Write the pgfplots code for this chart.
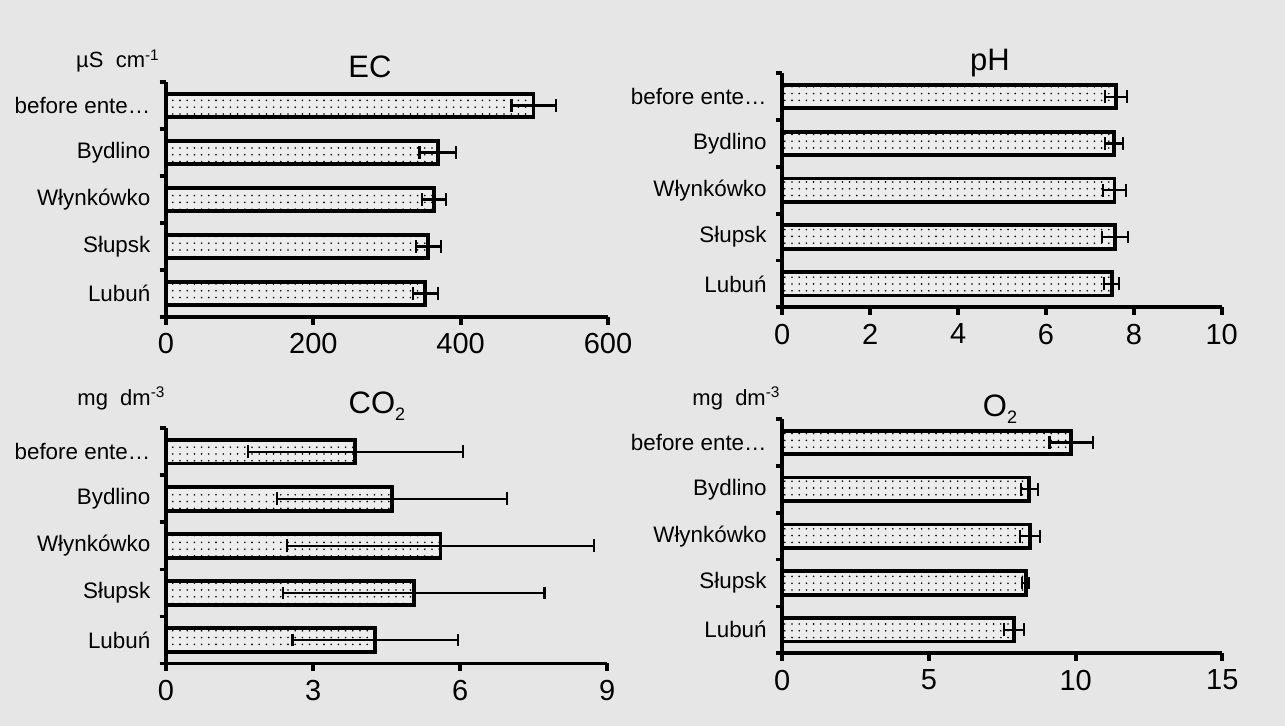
\documentclass[border=0pt]{standalone}
\usepackage{fontspec}
\setmainfont{Liberation Sans}
\usepackage{pgfplots}
\pgfplotsset{compat=1.18}
\usetikzlibrary{patterns}
\definecolor{bg}{HTML}{E6E6E6}
\definecolor{barfill}{HTML}{EDEDED}

% loose dot grid for the bar interiors
\pgfdeclarepatternformonly{sparsedots}{\pgfqpoint{-1pt}{-1pt}}{\pgfqpoint{1pt}{1pt}}{\pgfqpoint{3.6pt}{3.4pt}}{%
  \pgfpathcircle{\pgfqpoint{0pt}{0pt}}{.45pt}\pgfusepath{fill}}

% Mean values with standard deviations, one table per parameter
\pgfplotstableread{
pos val err
4 499 30
3 369 25
2 364 16
1 356 17
0 352 17
}\ecdata
\pgfplotstableread{
pos val err
4 7.60 0.25
3 7.55 0.21
2 7.56 0.27
1 7.57 0.30
0 7.50 0.17
}\phdata
\pgfplotstableread{
pos val err
4 3.86 2.19
3 4.61 2.35
2 5.60 3.13
1 5.05 2.67
0 4.27 1.69
}\cotwodata
\pgfplotstableread{
pos val err
4 9.85 0.74
3 8.42 0.29
2 8.45 0.34
1 8.30 0.12
0 7.90 0.34
}\otwodata

\newcommand{\firstsite}{before ente\ldots}
\newcommand{\sub}[1]{\raisebox{-0.45ex}{\fontsize{9}{9}\selectfont #1}}

\pgfplotsset{
  panel/.style={
    scale only axis,
    anchor=south west,
    axis x line*=bottom,
    axis y line*=left,
    axis line style={line width=1.9pt},
    tick align=outside,
    every tick/.style={black, line width=1.9pt},
    major tick length=3.8pt,
    minor tick length=3.2pt,
    ymin=-0.5, ymax=4.5,
    ytick={0,1,2,3,4},
    yticklabels={{Lubuń}, {Słupsk}, {Włynkówko}, {Bydlino}, {\firstsite}},
    minor ytick={-0.5,0.5,1.5,2.5,3.5,4.5},
    major y tick style={draw=none},
    xmin=0,
    clip=false,
    /pgf/number format/assume math mode=true,
    xticklabel style={font=\fontsize{14.5}{16}\selectfont, yshift=-1pt},
    yticklabel style={font=\fontsize{11.2}{12}\selectfont, xshift=-0.5pt},
  },
  bars/.style={
    xbar, bar width=0.5, draw=black, line width=1.9pt,
    fill=barfill, postaction={pattern=sparsedots, pattern color=black},
    error bars/.cd, x dir=both, x explicit,
    error mark=|,
    error bar style={line width=1.1pt, black},
    error mark options={line width=1.1pt, mark size=3.2pt, black},
  },
}

\begin{document}
\begin{tikzpicture}
\fill[bg] (0,0) rectangle (642.5pt,363pt);

% EC
\begin{axis}[panel, at={(83pt,204.5pt)}, width=221pt, height=117.5pt,
  xmax=600, xtick={0,200,400,600}]
\addplot[bars] table[x=val, y=pos, x error=err] {\ecdata};
\end{axis}

% pH
\begin{axis}[panel, at={(391.15pt,209.35pt)}, width=219.7pt, height=117pt,
  xmax=10, xtick={0,2,4,6,8,10}]
\addplot[bars] table[x=val, y=pos, x error=err] {\phdata};
\end{axis}

% CO2
\begin{axis}[panel, at={(83pt,31.25pt)}, width=220.65pt, height=117.6pt,
  xmax=9, xtick={0,3,6,9}]
\addplot[bars] table[x=val, y=pos, x error=err] {\cotwodata};
\end{axis}

% O2
\begin{axis}[panel, at={(391.15pt,36.35pt)}, width=220pt, height=117.15pt,
  xmax=15, xtick={0,5,10,15}]
\addplot[bars] table[x=val, y=pos, x error=err] {\otwodata};
\end{axis}

% titles and units
\begin{scope}[every node/.style={inner sep=0pt}]
\node[font=\fontsize{15.5}{16}\selectfont] at (185pt,329.5pt) {EC};
\node[font=\fontsize{15.5}{16}\selectfont] at (495pt,331.5pt) {pH};
\node[font=\fontsize{15.5}{16}\selectfont] at (188.5pt,160pt) {CO\sub{2}};
\node[font=\fontsize{15.5}{16}\selectfont] at (500pt,158.5pt) {O\sub{2}};
\node[font=\fontsize{11}{12}\selectfont] at (59pt,332.5pt) {µS\ \ cm\textsuperscript{-1}};
\node[font=\fontsize{11}{12}\selectfont] at (60.75pt,164pt) {mg\ \ dm\textsuperscript{-3}};
\node[font=\fontsize{11}{12}\selectfont] at (368.25pt,164pt) {mg\ \ dm\textsuperscript{-3}};
\end{scope}
\end{tikzpicture}
\end{document}
